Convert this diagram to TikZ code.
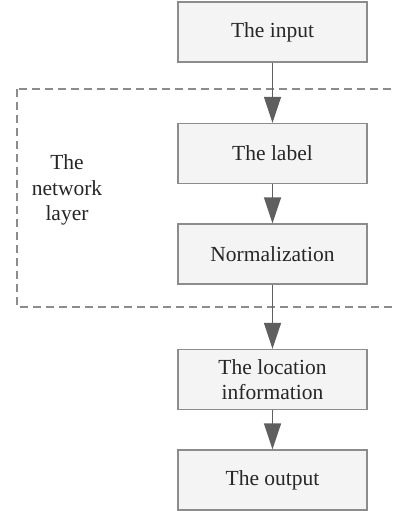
\documentclass[tikz,border=0pt]{standalone}
\usepackage{fontspec}
\setmainfont{Liberation Serif}
\usetikzlibrary{arrows.meta}

\definecolor{boxfill}{HTML}{F4F4F4}
\definecolor{boxline}{HTML}{8C8C8C}
\definecolor{arrowgray}{HTML}{5F5F5F}

\tikzset{
	stagebox/.style={draw=boxline, line width=1.3pt, fill=boxfill, minimum width=189pt, minimum height=60pt, align=center, text=black!85, font=\fontsize{21.5}{25}\selectfont},
	flowarrow/.style={draw=arrowgray, line width=1.6pt, -{Triangle[length=26pt,width=17pt]}},
}

\begin{document}
\begin{tikzpicture}[x=1pt,y=-1pt]
			%%%%% START %%%%%
			\useasboundingbox (0,0) rectangle (394,511);
			
			% the dashed frame runs off the right edge
			\begin{scope}
				\clip (0,0) rectangle (394,511);
				\draw[boxline, line width=1.2pt, dash pattern=on 8pt off 5pt] (17,89) rectangle (402,307);
			\end{scope}
			
			\node[align=center, text=black!85, font=\fontsize{21.5}{25.5}\selectfont] (layer) at (67,190) {The\\network\\layer};
			
			\node[stagebox] (input) at (272.5,32) {The input};
			\node[stagebox] (label) at (272.5,153.5) {The label};
			\node[stagebox] (norm) at (272.5,254) {Normalization};
			\node[stagebox] (loc) at (272.5,379.5) {The location\\information};
			\node[stagebox] (output) at (272.5,480) {The output};
			
			\draw[flowarrow] (input) -- (label);
			\draw[flowarrow] (label) -- (norm);
			\draw[flowarrow] (norm) -- (loc);
			\draw[flowarrow] (loc) -- (output);
			
			%%%%% END %%%%%
\end{tikzpicture}
\end{document}
